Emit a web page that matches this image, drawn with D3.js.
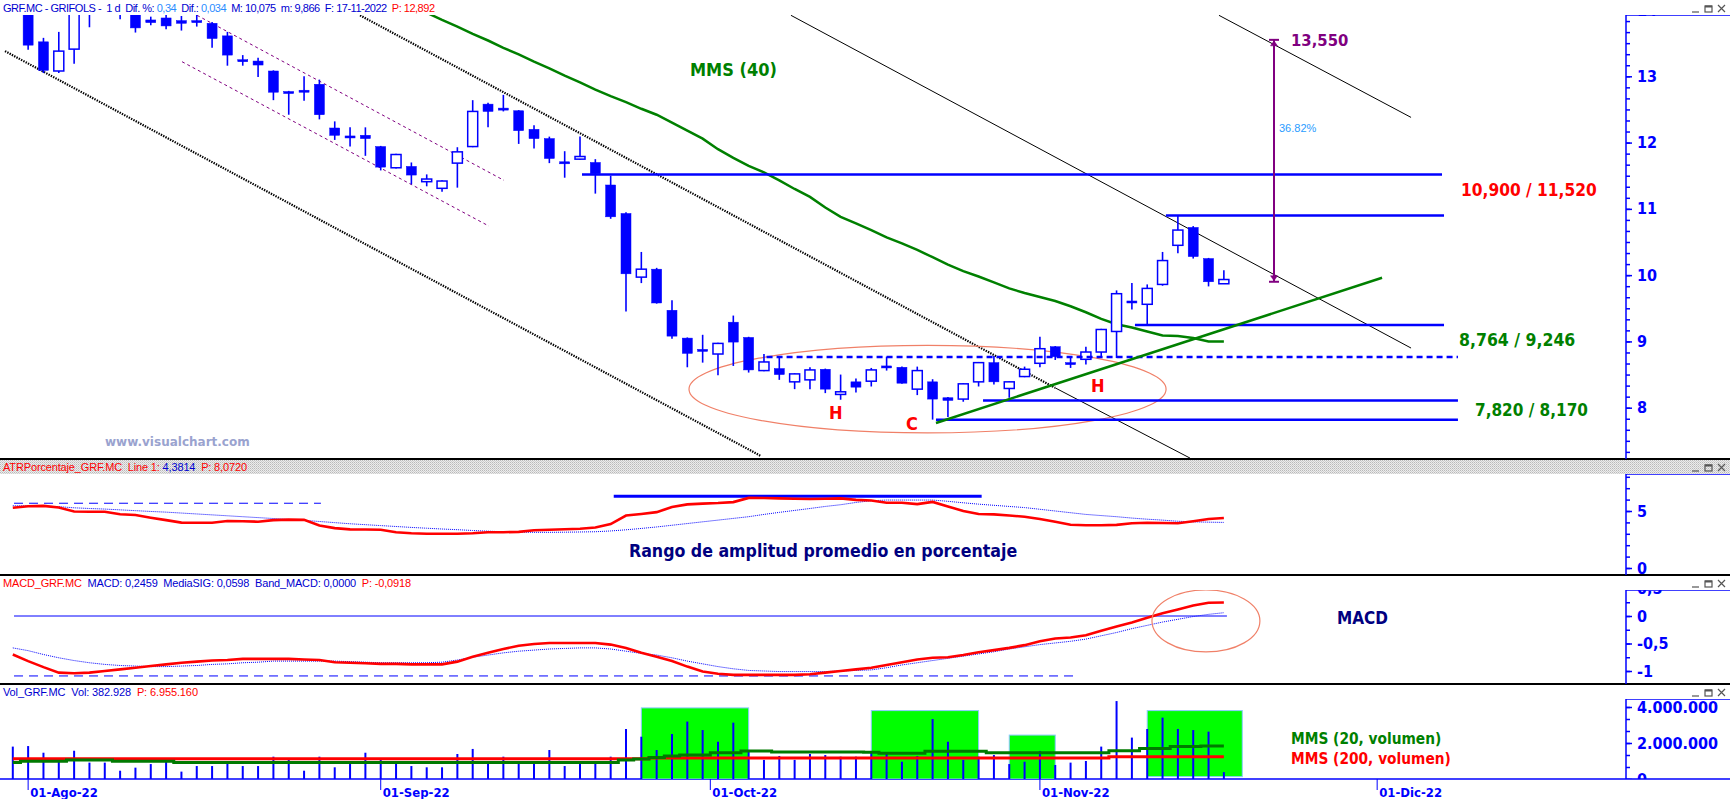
<!DOCTYPE html>
<html><head><meta charset="utf-8">
<script src="https://cdn.jsdelivr.net/npm/d3@7"></script>
<style>body{margin:0;background:#fff;} svg{display:block;} text{white-space:pre;}</style>
</head><body>
<svg id="c" width="1730" height="799"></svg>
<script>
// ---------------- DATA ----------------
const opens  = [14.10,14.05,13.52,13.08,13.41,14.20,14.10,14.30,13.96,13.85,13.88,13.84,13.84,13.80,13.61,13.25,13.23,13.08,12.77,12.79,
                12.88,12.22,12.10,12.11,11.94,11.62,11.64,11.41,11.31,11.69,11.94,12.58,12.52,12.48,12.20,12.06,11.71,11.75,11.70,11.36,
                10.93,9.97,10.09,9.47,9.05,8.88,8.81,9.29,9.06,8.56,8.59,8.39,8.42,8.58,8.20,8.39,8.40,8.63,8.61,8.28,
                8.39,8.15,8.13,8.39,8.68,8.29,8.47,8.67,8.92,8.68,8.73,8.84,9.15,9.61,9.56,9.86,10.45,10.72,10.25,9.87];
const highs  = [14.30,14.10,13.58,13.67,14.10,14.30,14.40,14.35,14.00,13.90,13.93,13.91,13.93,13.82,13.67,13.32,13.28,13.09,12.78,13.00,
                12.95,12.32,12.23,12.23,11.95,11.83,11.70,11.52,11.43,11.93,12.64,12.60,12.72,12.49,12.26,12.09,11.87,12.09,11.75,11.50,
                10.95,10.35,10.11,9.62,9.06,9.10,8.98,9.39,9.07,8.81,8.76,8.52,8.61,8.59,8.50,8.44,8.60,8.77,8.62,8.62,
                8.43,8.16,8.37,8.69,8.78,8.40,8.62,9.07,8.93,8.75,8.92,9.19,9.77,9.88,9.86,10.35,10.90,10.74,10.26,10.075];
const lows   = [13.95,13.40,13.05,13.05,13.19,13.74,13.98,13.86,13.66,13.77,13.71,13.69,13.75,13.43,13.16,13.16,12.99,12.64,12.42,12.63,
                12.35,12.04,11.94,11.80,11.58,11.61,11.37,11.34,11.26,11.32,11.93,12.23,12.47,11.98,11.91,11.69,11.47,11.74,11.23,10.85,
                9.45,9.88,9.57,9.04,8.61,8.68,8.49,8.63,8.53,8.55,8.42,8.28,8.28,8.22,8.12,8.23,8.32,8.56,8.36,8.19,
                7.82,7.86,8.09,8.32,8.35,8.15,8.46,8.61,8.72,8.60,8.65,8.77,8.75,9.48,9.246,9.84,10.33,10.25,9.83,9.866];
const closes = [14.20,13.47,13.09,13.38,14.00,14.10,14.30,14.00,13.73,13.81,13.76,13.80,13.81,13.57,13.32,13.23,13.17,12.76,12.75,12.77,
                12.42,12.11,12.08,12.06,11.63,11.82,11.51,11.45,11.42,11.86,12.47,12.47,12.50,12.18,12.06,11.76,11.69,11.79,11.53,10.88,
                10.02,10.09,9.58,9.08,8.82,8.86,8.97,8.99,8.57,8.69,8.50,8.51,8.57,8.28,8.24,8.31,8.57,8.61,8.37,8.56,
                8.13,8.11,8.36,8.68,8.39,8.39,8.58,8.89,8.77,8.66,8.84,9.18,9.72,9.59,9.80,10.22,10.68,10.28,9.90,9.934];
// 40-session simple moving average (null where not drawn)
const ma40 = [null,null,null,null,null,null,null,null,null,null,null,null,null,null,null,null,null,null,null,null,
              null,null,null,null,null,null,14.10,13.96,13.85,13.75,13.64,13.54,13.43,13.33,13.22,13.12,13.01,12.91,12.80,12.70,
              12.61,12.51,12.42,12.30,12.18,12.06,11.90,11.77,11.65,11.55,11.43,11.30,11.18,11.02,10.88,10.78,10.68,10.57,10.48,10.38,
              10.27,10.16,10.06,9.98,9.89,9.80,9.73,9.67,9.61,9.53,9.44,9.34,9.26,9.21,9.15,9.09,9.08,9.05,9.00,9.00];
// volume in millions
const volumes = [1.80,1.83,1.46,1.09,1.57,0.91,0.91,0.46,0.63,0.83,1.06,0.41,0.72,0.72,0.91,0.72,0.72,1.24,1.09,0.46,
                 1.24,0.65,0.87,1.46,1.09,0.87,0.72,0.65,0.65,1.39,1.67,0.91,1.24,0.87,0.87,1.61,0.72,0.91,0.91,1.24,
                 2.78,2.35,1.61,2.50,3.19,2.72,2.07,3.13,1.61,1.06,1.28,1.06,1.39,1.33,1.24,1.24,1.46,1.46,0.96,1.28,
                 3.33,2.07,1.06,1.24,1.33,0.83,0.96,1.56,0.78,0.91,1.00,1.80,4.33,2.30,2.78,3.41,2.78,2.72,2.63,0.383];
const volMA20 = [0.91,0.98,0.98,0.98,1.06,1.06,1.06,0.98,0.98,0.98,0.98,0.91,0.91,0.91,0.91,0.91,0.91,0.91,0.91,0.91,
                 0.91,0.91,0.91,0.91,0.91,0.91,0.91,0.91,0.91,0.91,0.91,0.91,0.91,0.91,0.91,0.91,0.91,0.91,0.91,0.91,
                 1.06,1.11,1.20,1.28,1.33,1.33,1.46,1.46,1.56,1.56,1.50,1.50,1.50,1.50,1.50,1.50,1.48,1.43,1.43,1.43,
                 1.54,1.54,1.54,1.54,1.46,1.46,1.46,1.46,1.46,1.46,1.46,1.46,1.57,1.57,1.70,1.70,1.80,1.80,1.83,1.83];
const volMA200 = [1.12,1.12,1.12,1.12,1.12,1.12,1.12,1.12,1.12,1.12,1.12,1.12,1.12,1.12,1.12,1.12,1.12,1.12,1.12,1.12,
                  1.12,1.12,1.12,1.12,1.12,1.12,1.12,1.12,1.12,1.12,1.12,1.12,1.12,1.12,1.12,1.12,1.12,1.12,1.12,1.12,
                  1.12,1.12,1.17,1.17,1.17,1.17,1.17,1.17,1.17,1.17,1.17,1.17,1.17,1.17,1.17,1.17,1.17,1.17,1.17,1.17,
                  1.17,1.17,1.17,1.17,1.17,1.17,1.17,1.17,1.17,1.17,1.17,1.17,1.23,1.23,1.23,1.23,1.23,1.23,1.23,1.23];
const atrLine = [5.29,5.42,5.45,5.30,4.95,4.94,4.94,4.71,4.65,4.41,4.20,3.98,3.97,3.97,4.12,4.10,4.06,4.20,4.24,4.22,
                 3.72,3.50,3.39,3.38,3.35,3.13,3.05,3.01,3.01,3.01,3.05,3.13,3.14,3.17,3.31,3.35,3.40,3.44,3.55,3.85,
                 4.60,4.74,4.90,5.35,5.58,5.65,5.70,5.78,6.15,6.14,6.11,6.08,6.05,6.07,6.11,5.98,5.92,5.73,5.73,5.60,
                 5.80,5.40,5.00,4.74,4.70,4.60,4.50,4.30,4.05,3.80,3.75,3.75,3.78,3.92,3.97,3.95,3.92,4.10,4.30,4.38];
const atrAvg = [5.46,5.45,5.42,5.38,5.28,5.22,5.17,5.10,5.03,4.96,4.90,4.82,4.74,4.66,4.58,4.50,4.42,4.34,4.26,4.18,
                4.08,3.98,3.88,3.80,3.72,3.64,3.56,3.49,3.42,3.36,3.29,3.23,3.18,3.15,3.13,3.13,3.14,3.16,3.18,3.25,
                3.35,3.47,3.60,3.75,3.90,4.05,4.20,4.35,4.50,4.70,4.88,5.05,5.22,5.40,5.55,5.75,5.90,5.96,5.96,5.96,
                5.96,5.85,5.72,5.60,5.50,5.40,5.30,5.15,5.00,4.85,4.70,4.60,4.50,4.38,4.28,4.20,4.10,4.05,4.02,4.00];
const macdLine = [-0.70,-0.82,-0.93,-1.03,-1.04,-1.03,-1.00,-0.97,-0.94,-0.91,-0.88,-0.85,-0.83,-0.81,-0.80,-0.78,-0.78,-0.78,-0.78,-0.79,
                  -0.80,-0.84,-0.85,-0.86,-0.87,-0.87,-0.88,-0.88,-0.88,-0.83,-0.74,-0.67,-0.60,-0.54,-0.51,-0.49,-0.49,-0.49,-0.49,-0.52,
                  -0.58,-0.67,-0.74,-0.82,-0.92,-1.01,-1.05,-1.07,-1.07,-1.07,-1.07,-1.07,-1.06,-1.03,-1.00,-0.97,-0.94,-0.89,-0.84,-0.79,
                  -0.76,-0.75,-0.71,-0.66,-0.62,-0.58,-0.53,-0.46,-0.41,-0.39,-0.35,-0.27,-0.19,-0.12,-0.03,0.05,0.12,0.19,0.24,0.2459];
const macdSignal = [-0.58,-0.63,-0.70,-0.76,-0.81,-0.85,-0.88,-0.90,-0.91,-0.92,-0.92,-0.91,-0.90,-0.88,-0.87,-0.85,-0.84,-0.82,-0.82,-0.82,
                    -0.82,-0.82,-0.83,-0.84,-0.85,-0.85,-0.85,-0.85,-0.84,-0.80,-0.75,-0.71,-0.67,-0.64,-0.62,-0.60,-0.59,-0.58,-0.58,-0.60,
                    -0.64,-0.68,-0.71,-0.76,-0.82,-0.87,-0.92,-0.96,-0.99,-1.00,-1.01,-1.01,-1.01,-1.01,-1.00,-0.99,-0.98,-0.94,-0.89,-0.85,
                    -0.81,-0.77,-0.73,-0.69,-0.65,-0.60,-0.56,-0.52,-0.49,-0.46,-0.42,-0.36,-0.30,-0.23,-0.17,-0.11,-0.06,-0.01,0.03,0.0598];
const dateTickLabels = ["01-Ago-22","01-Sep-22","01-Oct-22","01-Nov-22","01-Dic-22"];
const dateTickPos    = [1, 24, 45.5, 67, 89];
const priceTickLabels = [8,9,10,11,12,13,14];
const atrTickLabels = [0,5];
const macdTickLabels = [-1,-0.5,0,0.5];
const volTickLabels = [0,2000000,4000000];
// analyst drawings, in (session index, price)
const blackDotted = [[[-0.51,13.38],[48.81,7.27]], [[22.65,13.92],[67.99,8.30]]];
const blackThin   = [[[67.99,8.30],[76.79,7.24]], [[50.76,13.92],[91.21,8.90]], [[78.68,13.92],[91.21,12.38]]];
const purpleChannel = [[[12.02,13.92],[32.04,11.43]], [[11.04,13.22],[31.06,10.74]]];
const levelValues = [11.52,10.90,9.246,8.764,8.11,7.82];
const levelStart  = [37.13,75.22,73.2,49.17,63.29,60.22];
const levelEnd    = [93.23,93.36,93.36,94.27,94.27,94.27];
const levelDashed = [false,false,false,true,false,false];
const supportLine = [[60.22,7.77],[89.32,9.96]];
const targetMeasure = {idx:82.27, from:9.90, to:13.55};
const volBoxStart = [41,56,65,74];
const volBoxEnd   = [48,63,68,80.2];
const volBoxTop   = [3.95,3.8,2.44,3.8];
const volBoxBottom= [0,0,0,0.13];

// ---------------- SCALES ----------------
const svg = d3.select("#c");
const AX = 1626, W = 1730;
const x  = d3.scaleLinear().domain([0,79]).range([12.8, 12.8+79*15.33]);
const yP = d3.scaleLinear().domain([13,8]).range([76.3,407.7]);
const yA = d3.scaleLinear().domain([5,0]).range([511,568]);
const yM = d3.scaleLinear().domain([0,-1]).range([616,671]);
const yV = d3.scaleLinear().domain([0,4e6]).range([779,707]);
const BLUE = "#0000ff";
const idx = d3.range(80);

const defs = svg.append("defs");
function clip(id, x0, y0, w, h){ defs.append("clipPath").attr("id",id).append("rect").attr("x",x0).attr("y",y0).attr("width",w).attr("height",h); }
clip("cMain",0,15,AX,444); clip("cAtr",0,474,AX,101); clip("cMacd",0,590,AX,94); clip("cVol",0,699,AX,80);
clip("aMain",AX-1,15,W-AX+1,444); clip("aAtr",AX-1,474,W-AX+1,101); clip("aMacd",AX-1,590,W-AX+1,94); clip("aVol",AX-1,699,W-AX+1,80);
const pat = defs.append("pattern").attr("id","dots").attr("width",2).attr("height",2).attr("patternUnits","userSpaceOnUse");
pat.append("rect").attr("width",2).attr("height",2).attr("fill","#ececec");
pat.append("rect").attr("width",1).attr("height",1).attr("fill","#b9b9b9");
pat.append("rect").attr("x",1).attr("y",1).attr("width",1).attr("height",1).attr("fill","#cfcfcf");

// ---------------- PANEL FRAMES ----------------
svg.append("rect").attr("x",0).attr("y",460).attr("width",W).attr("height",14).attr("fill","url(#dots)");
[459,575,684].forEach(yy=>svg.append("line").attr("x1",0).attr("x2",W).attr("y1",yy).attr("y2",yy).attr("stroke","#000").attr("stroke-width",2));

function header(yb, parts, len){
  const t = svg.append("text").attr("x",3).attr("y",yb).attr("font-family","Liberation Sans, Arial, sans-serif").attr("font-size",11).attr("textLength",len);
  parts.forEach(p=>t.append("tspan").attr("fill",p[1]).text(p[0]));
}
header(12,[["GRF.MC - GRIFOLS -  1 d  Dif. %: ","#0000d0"],["0,34","#2a8cff"],["  Dif.: ","#0000d0"],["0,034","#2a8cff"],["  M: 10,075  m: 9,866  F: 17-11-2022  ","#0000d0"],["P: 12,892","#ff0000"]],432);
header(471,[["ATRPorcentaje_GRF.MC  Line 1: ","#ff0000"],["4,3814","#0000d0"],["  P: 8,0720","#ff0000"]],244);
header(587,[["MACD_GRF.MC  ","#ff0000"],["MACD: 0,2459  MediaSIG: 0,0598  Band_MACD: 0,0000  ","#0000d0"],["P: -0,0918","#ff0000"]],408);
header(696,[["Vol_GRF.MC  Vol: 382.928  ","#0000d0"],["P: 6.955.160","#ff0000"]],195);

// window buttons
[5,464,580,689].forEach(yt=>{
  const g = svg.append("g").attr("stroke","#555").attr("fill","none").attr("stroke-width",1.2);
  g.append("line").attr("x1",1692).attr("x2",1699).attr("y1",yt+7).attr("y2",yt+7);
  g.append("rect").attr("x",1705).attr("y",yt+1).attr("width",7).attr("height",6);
  g.append("line").attr("x1",1705).attr("x2",1712).attr("y1",yt+1.5).attr("y2",yt+1.5).attr("stroke-width",2);
  g.append("path").attr("d",`M1718,${yt}L1725,${yt+7}M1725,${yt}L1718,${yt+7}`);
});

// ---------------- AXES ----------------
function rightAxis(scale, minor, major, fmt, top, bottom, clipId){
  const g = svg.append("g").attr("clip-path",`url(#${clipId})`);
  g.append("line").attr("x1",AX).attr("x2",AX).attr("y1",top).attr("y2",bottom).attr("stroke",BLUE).attr("stroke-width",1.5);
  g.append("line").attr("x1",AX).attr("x2",W).attr("y1",top).attr("y2",top).attr("stroke",BLUE).attr("stroke-width",1.5);
  const a1 = g.append("g").attr("transform",`translate(${AX},0)`).call(d3.axisRight(scale).tickValues(minor).tickSize(4).tickSizeOuter(0).tickFormat(""));
  const a2 = g.append("g").attr("transform",`translate(${AX},0)`).call(d3.axisRight(scale).tickValues(major).tickSize(6).tickSizeOuter(0).tickPadding(5).tickFormat(fmt));
  [a1,a2].forEach(a=>{ a.select(".domain").remove(); a.selectAll("line").attr("stroke",BLUE).attr("stroke-width",1.5); });
  a2.selectAll("text").attr("fill",BLUE).attr("font-family","DejaVu Sans Condensed, DejaVu Sans, sans-serif").attr("font-weight","bold").attr("font-size",16);
}
rightAxis(yP, d3.range(42,85).map(v=>v/6), priceTickLabels, d=>String(d), 15, 459, "aMain");
rightAxis(yA, d3.range(0,9), atrTickLabels, d=>String(d), 474, 575, "aAtr");
rightAxis(yM, d3.range(-5,3).map(v=>v/4), macdTickLabels, d=>String(d).replace(".",","), 590, 684, "aMacd");
rightAxis(yV, d3.range(0,8).map(v=>v*2e6/3), volTickLabels, d=>d3.format(",")(d).replace(/,/g,"."), 699, 779, "aVol");

// date axis
svg.append("line").attr("x1",0).attr("x2",W).attr("y1",779).attr("y2",779).attr("stroke",BLUE).attr("stroke-width",1.5);
const dg = svg.append("g");
dateTickPos.forEach((p,i)=>{
  dg.append("line").attr("x1",x(p)).attr("x2",x(p)).attr("y1",779).attr("y2",790).attr("stroke",BLUE).attr("stroke-width",1);
  dg.append("text").attr("x",x(p)+2).attr("y",797).attr("fill",BLUE).attr("font-family","DejaVu Sans Condensed, sans-serif").attr("font-weight","bold").attr("font-size",13).text(dateTickLabels[i]);
});

// ---------------- MAIN PANEL ----------------
const m = svg.append("g").attr("clip-path","url(#cMain)");
const seg = (g, pts, color, w, dash) => g.append("line")
  .attr("x1",x(pts[0][0])).attr("y1",yP(pts[0][1])).attr("x2",x(pts[1][0])).attr("y2",yP(pts[1][1]))
  .attr("stroke",color).attr("stroke-width",w).attr("stroke-dasharray",dash||null);
blackDotted.forEach(l=>seg(m,l,"#000",2.2,"1.4,1.2"));
blackThin.forEach(l=>seg(m,l,"#000",1));
purpleChannel.forEach(l=>seg(m,l,"#800080",1,"3,3"));

// MA 40
m.append("path").datum(idx).attr("fill","none").attr("stroke","#008000").attr("stroke-width",2.5)
  .attr("d", d3.line().defined(i=>ma40[i]!==null).x(i=>x(i)).y(i=>yP(ma40[i])));

// ellipse (H-C-H)
m.append("ellipse").attr("cx",x(59.67)).attr("cy",yP(8.28))
  .attr("rx",x(15.56)-x(0)).attr("ry",yP(8.28-0.66)-yP(8.28))
  .attr("fill","none").attr("stroke","#f08068").attr("stroke-width",1.2);

// candles
const cg = m.append("g");
idx.forEach(i=>{
  const up = closes[i] >= opens[i];
  cg.append("line").attr("x1",x(i)).attr("x2",x(i)).attr("y1",yP(highs[i])).attr("y2",yP(lows[i])).attr("stroke",BLUE).attr("stroke-width",1.6);
  const top = yP(Math.max(opens[i],closes[i])), bot = yP(Math.min(opens[i],closes[i]));
  const h = Math.max(bot-top, 2);
  cg.append("rect").attr("x",x(i)-5).attr("y",top).attr("width",10).attr("height",h)
    .attr("fill", up ? "#fff" : BLUE).attr("stroke",BLUE).attr("stroke-width", up ? 1.5 : 0.5);
});

// horizontal levels
levelValues.forEach((v,i)=>{
  m.append("line").attr("x1",x(levelStart[i])).attr("x2",x(levelEnd[i])).attr("y1",yP(v)).attr("y2",yP(v))
   .attr("stroke",BLUE).attr("stroke-width",2.5).attr("stroke-dasharray",levelDashed[i]?"6,4":null);
});
// green support line
seg(m, supportLine, "#008000", 2.5);

// target measurement
{
  const xm = x(targetMeasure.idx), yt = yP(targetMeasure.to), yb = yP(targetMeasure.from);
  const g = m.append("g").attr("stroke","#800080").attr("fill","#800080");
  g.append("line").attr("x1",xm).attr("x2",xm).attr("y1",yt).attr("y2",yb).attr("stroke-width",2);
  g.append("line").attr("x1",xm-5).attr("x2",xm+5).attr("y1",yt).attr("y2",yt).attr("stroke-width",2);
  g.append("line").attr("x1",xm-5).attr("x2",xm+5).attr("y1",yb).attr("y2",yb).attr("stroke-width",2);
  g.append("path").attr("d",`M${xm-3.5},${yt+6}L${xm+3.5},${yt+6}L${xm},${yt+1}Z`).attr("stroke-width",0.5);
  g.append("path").attr("d",`M${xm-3.5},${yb-6}L${xm+3.5},${yb-6}L${xm},${yb-1}Z`).attr("stroke-width",0.5);
}

// labels main panel
function lbl(g, tx, ty, txt, color, size, weight, family){
  g.append("text").attr("x",tx).attr("y",ty).attr("fill",color).attr("font-size",size)
   .attr("font-weight",weight||"bold").attr("font-family",family||"DejaVu Sans Condensed, DejaVu Sans, sans-serif").text(txt);
}
lbl(svg,690,76,"MMS (40)","#008000",18);
lbl(svg,1291,46,"13,550","#800080",16.5);
lbl(svg,1279,132,"36.82%","#2a9cff",11,"normal","Liberation Sans, Arial, sans-serif");
lbl(svg,1461,196,"10,900 / 11,520","#ff0000",17.2);
lbl(svg,1459,346,"8,764 / 9,246","#008000",17.5);
lbl(svg,1475,416,"7,820 / 8,170","#008000",17);
lbl(svg,829,419,"H","#ff0000",18);
lbl(svg,906,430,"C","#ff0000",18);
lbl(svg,1091,392,"H","#ff0000",18);
lbl(svg,105,446,"www.visualchart.com","#9aa3cf",12,"bold","DejaVu Sans, Verdana, sans-serif");

// ---------------- ATR PANEL ----------------
const a = svg.append("g").attr("clip-path","url(#cAtr)");
a.append("line").attr("x1",x(0.08)).attr("x2",x(20.1)).attr("y1",yA(5.68)).attr("y2",yA(5.68)).attr("stroke",BLUE).attr("stroke-width",1).attr("stroke-dasharray","9,6");
a.append("line").attr("x1",x(39.2)).attr("x2",x(63.2)).attr("y1",yA(6.29)).attr("y2",yA(6.29)).attr("stroke",BLUE).attr("stroke-width",3);
a.append("path").datum(idx).attr("fill","none").attr("stroke",BLUE).attr("stroke-width",1).attr("stroke-dasharray","1,1")
  .attr("d", d3.line().x(i=>x(i)).y(i=>yA(atrAvg[i])));
a.append("path").datum(idx).attr("fill","none").attr("stroke","#ff0000").attr("stroke-width",2.6)
  .attr("d", d3.line().x(i=>x(i)).y(i=>yA(atrLine[i])));
lbl(svg,629,557,"Rango de amplitud promedio en porcentaje","#000080",17.6);

// ---------------- MACD PANEL ----------------
const mc = svg.append("g").attr("clip-path","url(#cMacd)");
mc.append("line").attr("x1",x(0.08)).attr("x2",x(79.2)).attr("y1",yM(0)).attr("y2",yM(0)).attr("stroke",BLUE).attr("stroke-width",1);
mc.append("line").attr("x1",x(0.08)).attr("x2",x(69.2)).attr("y1",yM(-1.09)).attr("y2",yM(-1.09)).attr("stroke",BLUE).attr("stroke-width",1).attr("stroke-dasharray","9,6");
mc.append("path").datum(idx).attr("fill","none").attr("stroke",BLUE).attr("stroke-width",1).attr("stroke-dasharray","1,1")
  .attr("d", d3.line().x(i=>x(i)).y(i=>yM(macdSignal[i])));
mc.append("path").datum(idx).attr("fill","none").attr("stroke","#ff0000").attr("stroke-width",2.6)
  .attr("d", d3.line().x(i=>x(i)).y(i=>yM(macdLine[i])));
mc.append("ellipse").attr("cx",x(77.83)).attr("cy",yM(-0.09)).attr("rx",x(3.52)-x(0)).attr("ry",yM(-0.564)-yM(0))
  .attr("fill","none").attr("stroke","#f08068").attr("stroke-width",1.2);
lbl(svg,1337,624,"MACD","#000080",17);

// ---------------- VOLUME PANEL ----------------
const v = svg.append("g").attr("clip-path","url(#cVol)");
volBoxStart.forEach((s,i)=>{
  v.append("rect").attr("x",x(s)).attr("y",yV(volBoxTop[i]*1e6)).attr("width",x(volBoxEnd[i])-x(s))
   .attr("height",yV(volBoxBottom[i]*1e6)-yV(volBoxTop[i]*1e6)).attr("fill","#00ff00").attr("stroke","#8cc8ff").attr("stroke-width",1);
});
idx.forEach(i=>{
  v.append("line").attr("x1",x(i)).attr("x2",x(i)).attr("y1",yV(0)).attr("y2",yV(volumes[i]*1e6)).attr("stroke",BLUE).attr("stroke-width",2);
});
v.append("path").datum(idx).attr("fill","none").attr("stroke","#ff0000").attr("stroke-width",3)
  .attr("d", d3.line().curve(d3.curveStep).x(i=>x(i)).y(i=>yV(volMA200[i]*1e6)));
v.append("path").datum(idx).attr("fill","none").attr("stroke","#007a00").attr("stroke-width",3)
  .attr("d", d3.line().curve(d3.curveStep).x(i=>x(i)).y(i=>yV(volMA20[i]*1e6)));
lbl(svg,1291,744,"MMS (20, volumen)","#008000",15.3);
lbl(svg,1291,764,"MMS (200, volumen)","#ff0000",15.3);
</script>
</body></html>
